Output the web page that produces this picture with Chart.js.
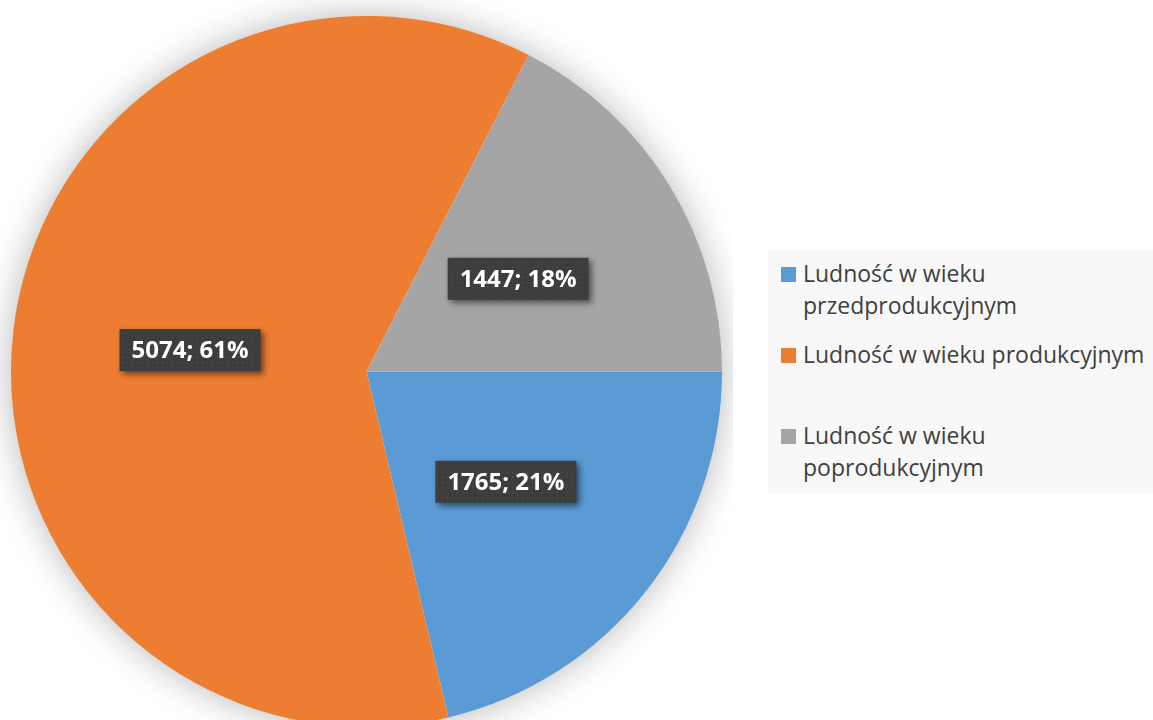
<!DOCTYPE html>
<html>
<head>
<meta charset="utf-8">
<script src="https://cdn.jsdelivr.net/npm/chart.js@4"></script>
<style>
  html, body { margin: 0; padding: 0; background: #fff; overflow: hidden; width: 1153px; height: 720px; }
  #wrap { position: absolute; left: 0; top: 0; width: 733px; height: 743px; }
  #legend {
    position: absolute; left: 768px; top: 250px; width: 385px; height: 243px;
    background: #f8f8f8; font-family: "Open Sans", sans-serif; font-size: 23px;
    color: #404040; line-height: 32px;
  }
  .item { position: absolute; left: 35px; width: 350px; white-space: nowrap; }
  .box { position: absolute; left: -22px; top: 10px; width: 15px; height: 15px; }
</style>
</head>
<body>
<div id="wrap"><canvas id="pie"></canvas></div>
<div id="legend"></div>
<script>
// Data
const categories = [
    "Ludność w wieku przedprodukcyjnym",
    "Ludność w wieku produkcyjnym",
    "Ludność w wieku poprodukcyjnym"
];
const legendLines = [
    ["Ludność w wieku", "przedprodukcyjnym"],
    ["Ludność w wieku produkcyjnym"],
    ["Ludność w wieku", "poprodukcyjnym"]
];
const values = [1765, 5074, 1447];
const percents = [21, 61, 18]; // as printed on the chart
const colors = ["#5b9bd5", "#ed7d31", "#a5a5a5"];

// Legend (HTML, built from the arrays)
const legendEl = document.getElementById("legend");
categories.forEach((cat, i) => {
    const item = document.createElement("div");
    item.className = "item";
    item.style.top = (7 + i * 81) + "px";
    item.innerHTML = `<span class="box" style="background:${colors[i]}"></span>` + legendLines[i].join("<br>");
    legendEl.appendChild(item);
});

// Dotted dark pattern for data label boxes
function makePattern(ctx) {
    const c = document.createElement("canvas");
    c.width = 5; c.height = 5;
    const p = c.getContext("2d");
    p.fillStyle = "#3d3d3d";
    p.fillRect(0, 0, 5, 5);
    p.fillStyle = "#4f4f4f";
    p.fillRect(2, 2, 1, 1);
    return ctx.createPattern(c, "repeat");
}

// Soft shadow behind the pie
const pieShadow = {
    id: "pieShadow",
    beforeDatasetsDraw(chart) {
        const arc = chart.getDatasetMeta(0).data[0];
        if (!arc) return;
        const ctx = chart.ctx;
        ctx.save();
        ctx.beginPath();
        ctx.arc(arc.x, arc.y, arc.outerRadius - 1, 0, Math.PI * 2);
        ctx.fillStyle = "#fff";
        ctx.shadowColor = "rgba(0,0,0,0.3)";
        ctx.shadowBlur = 36;
        ctx.fill();
        ctx.restore();
    }
};

// Data labels "value; pct%"
const dataLabels = {
    id: "dataLabels",
    afterDatasetsDraw(chart) {
        const ctx = chart.ctx;
        const meta = chart.getDatasetMeta(0);
        const pattern = makePattern(ctx);
        ctx.save();
        ctx.font = "bold 24px 'Open Sans', sans-serif";
        ctx.textAlign = "center";
        ctx.textBaseline = "middle";
        meta.data.forEach((arc, i) => {
            const pos = arc.tooltipPosition();
            const text = values[i] + "; " + percents[i] + "%";
            const w = ctx.measureText(text).width + 24;
            const h = 42;
            ctx.save();
            ctx.shadowColor = "rgba(0,0,0,0.55)";
            ctx.shadowBlur = 6;
            ctx.shadowOffsetX = 3;
            ctx.shadowOffsetY = 3;
            ctx.fillStyle = pattern;
            ctx.fillRect(pos.x - w / 2, pos.y - h / 2, w, h);
            ctx.restore();
            ctx.fillStyle = "#ffffff";
            ctx.fillText(text, pos.x, pos.y + 1);
        });
        ctx.restore();
    }
};

new Chart(document.getElementById("pie"), {
    type: "pie",
    data: {
        labels: categories,
        datasets: [{
            data: values,
            backgroundColor: colors,
            borderWidth: 0
        }]
    },
    options: {
        responsive: true,
        maintainAspectRatio: false,
        animation: false,
        rotation: 90,
        layout: { padding: { left: 11, right: 11, top: 16, bottom: 16 } },
        plugins: {
            legend: { display: false },
            tooltip: { enabled: false }
        }
    },
    plugins: [pieShadow, dataLabels]
});
</script>
</body>
</html>
